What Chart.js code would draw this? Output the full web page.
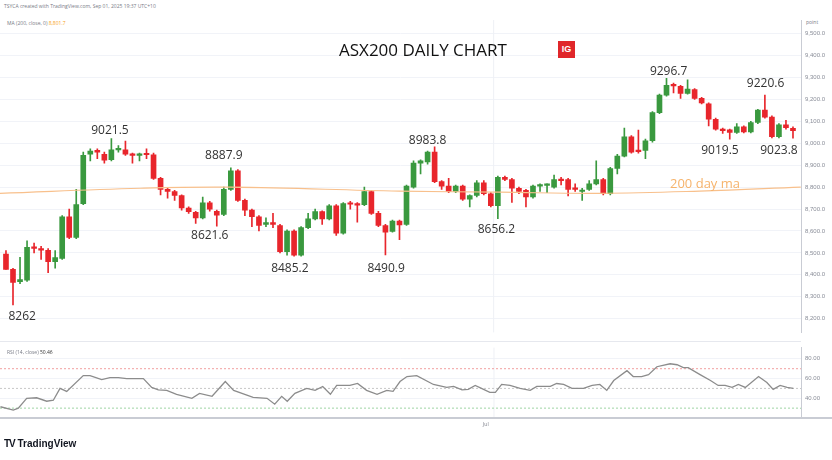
<!DOCTYPE html>
<html lang="en">
<head>
<meta charset="UTF-8">
<title>ASX200 Daily Chart</title>
<script src="https://cdn.jsdelivr.net/npm/chart.js"></script>
<style>
  body { margin: 0; background: #fff; font-family: "Open Sans", "Noto Sans", sans-serif; }
  #wrap { position: relative; width: 832px; height: 460px; overflow: hidden; }
  canvas { position: absolute; left: 0; }
  .tiny { position: absolute; font-size: 5px; color: #787b86; white-space: nowrap; }
</style>
</head>
<body>
<div id="wrap">
  <div class="tiny" style="left:4px;top:3px;">TSYCA created with TradingView.com, Sep 01, 2025 19:37 UTC+10</div>
  <div class="tiny" style="left:7px;top:20px;">MA (200, close, 0) <span style="color:#f7a21b">8,801.7</span></div>
  <div class="tiny" style="left:806px;top:19px;">point</div>
  <canvas id="price" width="832" height="340" style="top:0"></canvas>
  <canvas id="rsi" width="832" height="120" style="top:340px"></canvas>
  <div style="position:absolute;left:0;top:341px;width:801px;height:1px;background:#e6e8ee"></div>
  <div style="position:absolute;left:0;top:417px;width:832px;height:2px;background:#c9ccd4"></div>
  <div class="tiny" style="left:7px;top:349px;">RSI (14, close) <span style="color:#333">50.46</span></div>
  <div class="tiny" style="left:483px;top:421px;">Jul</div>
  <div style="position:absolute;left:339px;top:38px;font-size:17px;color:#111">ASX200 DAILY CHART</div>
  <div style="position:absolute;left:558px;top:41px;width:17px;height:17px;background:#e0262a;color:#fff;font:bold 9px Arial, sans-serif;text-align:center;line-height:17px">IG</div>
  <div style="position:absolute;left:670px;top:174px;font-size:13px;color:#f6b36b">200 day ma</div>
  <div style="position:absolute;left:4px;top:438px;font:bold 10px Arial, sans-serif;color:#131722"><span style="letter-spacing:-1px">TV</span> TradingView</div>
</div>
<script>
// candles, oldest first
const opens  = [8495,8425,8368,8375,8528,8520,8512,8460,8475,8665,8570,8725,8950,8968,8950,8925,8970,8970,8950,8945,8952,8948,8840,8790,8780,8762,8705,8685,8660,8728,8690,8675,8790,8875,8740,8695,8665,8630,8638,8625,8505,8600,8490,8615,8655,8688,8655,8715,8590,8728,8725,8720,8780,8680,8625,8598,8645,8630,8800,8910,8915,8960,8825,8805,8780,8805,8745,8762,8820,8770,8715,8845,8835,8795,8785,8755,8805,8808,8800,8835,8835,8795,8780,8790,8815,8835,8770,8885,8942,9030,8968,8968,9012,9140,9220,9268,9260,9228,9245,9205,9180,9110,9065,9062,9050,9075,9052,9095,9152,9120,9030,9085,9068];
const highs  = [8510,8430,8480,8555,8545,8530,8520,8510,8670,8700,8790,8960,8975,8975,8960,9021.5,8990,9010,8955,8955,8975,8955,8845,8795,8785,8765,8710,8690,8755,8735,8695,8800,8887.9,8880,8745,8700,8670,8660,8680,8630,8605,8605,8620,8680,8700,8692,8720,8720,8730,8735,8730,8800,8785,8690,8630,8650,8650,8810,8920,8925,8965,8983.8,8830,8840,8810,8810,8765,8830,8830,8775,8850,8850,8840,8800,8790,8810,8815,8815,8855,8845,8840,8815,8795,8830,8920,8840,8890,8950,9070,9035,9060,9020,9145,9225,9296.7,9275,9265,9290,9250,9210,9185,9115,9070,9065,9090,9080,9100,9155,9220.6,9125,9090,9105,9075];
const lows   = [8425,8262,8360,8370,8500,8470,8410,8430,8470,8565,8565,8720,8920,8930,8910,8920,8960,8945,8910,8920,8930,8835,8765,8750,8740,8695,8680,8635,8655,8690,8621.6,8670,8785,8735,8670,8620,8600,8620,8615,8500,8490,8485.2,8485,8610,8650,8630,8650,8580,8585,8700,8640,8715,8675,8620,8490.9,8595,8560,8625,8795,8860,8905,8820,8790,8775,8775,8740,8710,8755,8765,8710,8656.2,8830,8730,8770,8710,8750,8780,8775,8795,8810,8760,8780,8740,8785,8810,8765,8765,8860,8938,8955,8955,8930,9005,9135,9215,9230,9205,9225,9200,9180,9080,9060,9045,9019.5,9045,9048,9048,9090,9115,9025,9025,9065,9023.8];
const closes = [8425,8365,8378,8525,8520,8512,8460,8478,8665,8570,8720,8945,8965,8960,8923,8970,8975,8950,8945,8950,8948,8840,8790,8780,8762,8705,8688,8660,8728,8700,8672,8790,8875,8740,8695,8665,8625,8638,8630,8505,8600,8490,8615,8655,8688,8655,8715,8590,8725,8722,8718,8780,8680,8625,8595,8645,8628,8805,8910,8920,8960,8825,8805,8780,8805,8745,8762,8820,8770,8715,8845,8835,8795,8780,8755,8805,8810,8812,8835,8830,8790,8790,8785,8815,8835,8770,8885,8942,9030,8960,8962,9012,9140,9220,9265,9262,9228,9248,9205,9185,9110,9065,9058,9050,9075,9052,9095,9152,9120,9030,9085,9072,9058];

// 200 day moving average (candle index, value)
const maIdx = [-0.85, 19.1, 31.9, 56.0, 70.3, 84.5, 98.7, 113.1];
const maVal = [8772, 8795, 8800, 8782, 8777, 8772, 8782, 8800];

// RSI 14 (position in candle units, value)
const rsiIdx = [-0.8,1.05,1.77,2.97,4.4,5.85,6.8,7.76,8.72,11.1,12.07,13.75,14.94,16.14,17.34,19.73,20.93,21.88,23.09,24.5,26.7,27.8,29.6,31.5,32.7,35.5,37.5,38.6,39.6,40.4,41.5,43.2,44.4,45.5,46.6,47.5,49.4,50.5,51.8,53.3,54.7,55.6,56.6,57.6,59.0,
  61.4,63.3,64.3,65.5,66.4,67.4,68.3,69.5,70.3,71.2,72.4,73.85,75.3,76.25,78.2,79.1,80.1,81.3,82.95,84.2,85.3,86.3,87.3,89.2,90.1,91.3,92.3,93.5,95.4,96.4,97.3,98.0,99.7,101.2,102.3,103.3,104.3,105.2,106.2,108.1,109.3,110.2,111.2,112.2,113.1];
const rsiVal = [31.4,28,30,40,40.5,37,38,50,47,63,63,59,61,61,60,60,51,48.5,48,44,40,45,42,57,48,41,40,34,42,37,45,50,48,52,44,53,53,55,48,44,48,47,57,62,63,
  54,51,52,48.5,49,53,50,46,46,54,53,50,48,52,52,55,54,50,50,53,54,48,58,68,62,62,64,72,75,74,71,71,64,58,53,53,51,54,51,62,56,49,53,51,50];

const priceTicks = [8200,8300,8400,8500,8600,8700,8800,8900,9000,9100,9200,9300,9400,9500];
const rsiTicks = [40, 60, 80];

// swing-point annotations
const noteText = ['8262','9021.5','8887.9','8621.6','8485.2','8490.9','8983.8','8656.2','9296.7','9220.6','9019.5','9023.8'];
const noteIdx  = [2.3, 14.8, 31.0, 29.0, 40.4, 54.1, 60.0, 69.8, 94.3, 108.1, 101.6, 110.0];
const noteVal  = [8207, 9058, 8946, 8579, 8427, 8427, 9013, 8605, 9327, 9273, 8969, 8969];

const UP = '#3a993f', DOWN = '#e8262c';
const col = opens.map((o, i) => closes[i] >= o ? UP : DOWN);
const fmt = v => v.toLocaleString('en-US', {minimumFractionDigits: 1, maximumFractionDigits: 1});

const notes = {
  id: 'notes',
  afterDatasetsDraw(chart) {
    const c = chart.ctx, xs = chart.scales.x, ys = chart.scales.y;
    c.save();
    c.font = '12px "Open Sans", sans-serif';
    c.fillStyle = '#333';
    c.textAlign = 'center';
    c.textBaseline = 'middle';
    noteText.forEach((t, i) => c.fillText(t, xs.getPixelForValue(noteIdx[i]), ys.getPixelForValue(noteVal[i])));
    c.restore();
  }
};

const julLine = {
  id: 'julLine',
  beforeDatasetsDraw(chart, args, opts) {
    const c = chart.ctx, a = chart.chartArea;
    const x = chart.scales.x.getPixelForValue(opts.at);
    c.save();
    c.strokeStyle = '#eef0f5';
    c.lineWidth = 1;
    c.beginPath(); c.moveTo(x, a.top); c.lineTo(x, a.bottom); c.stroke();
    (opts.levels || []).forEach(l => {
      const y = chart.scales.y.getPixelForValue(l[0]);
      c.strokeStyle = l[1];
      c.setLineDash([2, 2]);
      c.beginPath(); c.moveTo(a.left, y); c.lineTo(a.right, y); c.stroke();
    });
    c.restore();
  }
};

const rightAxis = (min, max, ticks, label) => ({
  position: 'right', min: min, max: max,
  afterBuildTicks: s => { s.ticks = ticks.map(v => ({value: v})); },
  afterFit: s => { s.width = 31; },
  ticks: { color: '#8a8e99', font: {size: 6}, padding: 4, callback: label },
  grid: { color: '#f1f3f8', drawTicks: false },
  border: { color: '#c9ccd4' }
});

new Chart(document.getElementById('price'), {
  type: 'bar',
  data: {
    datasets: [
      { type: 'line', data: maIdx.map((x, i) => ({x: x, y: maVal[i]})), borderColor: '#f8c08c', borderWidth: 1.2, pointRadius: 0, tension: 0.4 },
      { data: lows.map((l, i) => ({x: i, y: [l, highs[i]]})), backgroundColor: col, barThickness: 1, grouped: false },
      { data: opens.map((o, i) => ({x: i, y: [o, closes[i]]})), backgroundColor: col, barThickness: 5, minBarLength: 1.5, grouped: false }
    ]
  },
  options: {
    responsive: false, animation: false,
    layout: { padding: { top: 20, bottom: 2, left: 0, right: 0 } },
    plugins: { legend: { display: false }, tooltip: { enabled: false }, julLine: { at: 69.4 } },
    scales: {
      x: { type: 'linear', offset: false, min: -0.85, max: 113.14, display: false },
      y: rightAxis(8137, 9563, priceTicks, v => fmt(v))
    }
  },
  plugins: [julLine, notes]
});

new Chart(document.getElementById('rsi'), {
  type: 'line',
  data: {
    datasets: [{ data: rsiIdx.map((x, i) => ({x: x, y: rsiVal[i]})), borderColor: '#8c8c8c', borderWidth: 1.3, pointRadius: 0, tension: 0 }]
  },
  options: {
    responsive: false, animation: false,
    layout: { padding: { top: 3, bottom: 43, left: 0, right: 0 } },
    plugins: { legend: { display: false }, tooltip: { enabled: false },
      julLine: { at: 69.4 * 7.03 / 6.96, levels: [[70, '#f2a0a0'], [50, '#c8c8c8'], [30, '#9fd4a3']] } },
    scales: {
      x: { type: 'linear', min: -0.862, max: 114.2, display: false },
      y: rightAxis(21, 91.4, rsiTicks, v => v.toFixed(2))
    }
  },
  plugins: [julLine]
});
</script>
</body>
</html>
